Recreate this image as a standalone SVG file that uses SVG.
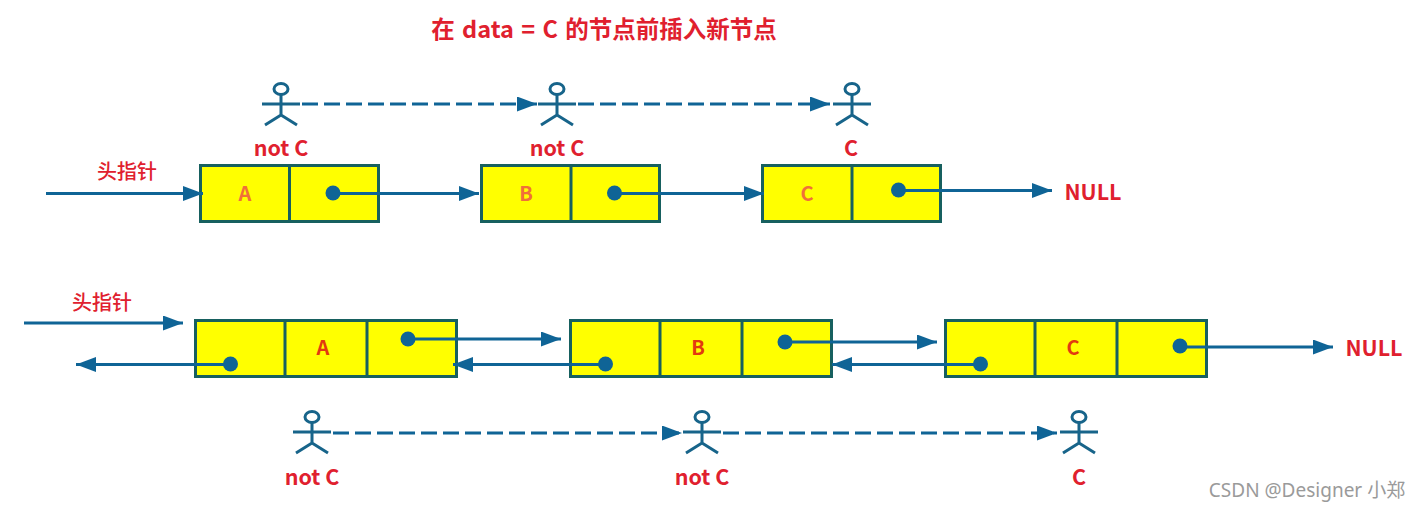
<svg xmlns="http://www.w3.org/2000/svg" width="1419" height="510" viewBox="0 0 1419 510">
<style>
.cell{fill:#ffff00;stroke:#17605f;stroke-width:3}
.div{stroke:#17605f;stroke-width:3;fill:none}
.dot{fill:#0f6496}
.ln{stroke:#0f6496;stroke-width:3;fill:none}
.dash{stroke:#0f6496;stroke-width:3;fill:none;stroke-dasharray:16 6}
.fig{stroke:#17648a;stroke-width:3;fill:none}
.head{stroke:#17648a;stroke-width:3;fill:#fff}
text{font-family:"Noto Sans CJK SC","Noto Sans",sans-serif;font-weight:700;fill:#e0202e;text-anchor:middle}
.lbl{font-size:21.5px}
.ptr{font-size:20px;font-weight:500}
.nul{font-size:21.5px}
.in{font-size:20px;fill:#f0703a}
.in2{font-size:20px;fill:#e23a10}
.wm{font-family:"Noto Sans","Noto Sans CJK SC",sans-serif;font-weight:400;font-size:19px;fill:#9a9a9a}
</style>
<defs>
<marker id="ah" markerUnits="userSpaceOnUse" markerWidth="22" markerHeight="16" refX="20" refY="7.500" orient="auto"><path d="M0 0L20 7.500L0 15Z" fill="#0f6496"/></marker>
<g id="person"><line class="fig" x1="-19" y1="15" x2="19" y2="15"/><path class="fig" d="M0 5V26M-16 36L0 26L16 36"/><ellipse class="head" cx="0" cy="0" rx="7" ry="5.500"/></g>
</defs>
<rect width="1419" height="510" fill="#fff"/>
<text id="title" x="604" y="38" font-size="23.500" style="word-spacing:2px">在 data = C 的节点前插入新节点</text>

<g id="top-A"><rect class="cell" x="200.500" y="165.500" width="178" height="56"/><line class="div" x1="289.500" y1="165" x2="289.500" y2="221"/><text class="in" x="245" y="201">A</text><circle class="dot" cx="333" cy="193" r="7.500"/></g>
<g id="top-B"><rect class="cell" x="481.500" y="165.500" width="178" height="56"/><line class="div" x1="571" y1="165" x2="571" y2="221"/><text class="in" x="526" y="201">B</text><circle class="dot" cx="614.500" cy="193" r="7.500"/></g>
<g id="top-C"><rect class="cell" x="762.500" y="165.500" width="178" height="56"/><line class="div" x1="852" y1="165" x2="852" y2="221"/><text class="in" x="807" y="201">C</text><circle class="dot" cx="898.500" cy="190" r="7.500"/></g>

<g id="bot-A"><rect class="cell" x="195.500" y="320.500" width="261" height="56"/><path class="div" d="M285 320V376M367 320V376"/><text class="in2" x="323" y="355">A</text><circle class="dot" cx="230.500" cy="364" r="7.500"/><circle class="dot" cx="408" cy="339" r="7.500"/></g>
<g id="bot-B"><rect class="cell" x="570.500" y="320.500" width="261" height="56"/><path class="div" d="M660 320V376M742 320V376"/><text class="in2" x="698" y="355">B</text><circle class="dot" cx="605.500" cy="364" r="7.500"/><circle class="dot" cx="785" cy="342" r="7.500"/></g>
<g id="bot-C"><rect class="cell" x="945.500" y="320.500" width="261" height="56"/><path class="div" d="M1035 320V376M1117 320V376"/><text class="in2" x="1073" y="355">C</text><circle class="dot" cx="980.500" cy="364" r="7.500"/><circle class="dot" cx="1180" cy="346" r="7.500"/></g>

<g id="connectors">
<line class="ln" x1="46" y1="193.500" x2="203" y2="193.500" marker-end="url(#ah)"/>
<line class="ln" x1="333" y1="193.500" x2="479" y2="193.500" marker-end="url(#ah)"/>
<line class="ln" x1="614" y1="193.500" x2="764" y2="193.500" marker-end="url(#ah)"/>
<line class="ln" x1="898" y1="190.500" x2="1052" y2="190.500" marker-end="url(#ah)"/>
<line class="ln" x1="24" y1="323" x2="183" y2="323" marker-end="url(#ah)"/>
<line class="ln" x1="230" y1="364.500" x2="76" y2="364.500" marker-end="url(#ah)"/>
<line class="ln" x1="408" y1="339" x2="561" y2="339" marker-end="url(#ah)"/>
<line class="ln" x1="605" y1="364.500" x2="453" y2="364.500" marker-end="url(#ah)"/>
<line class="ln" x1="785" y1="342" x2="937" y2="342" marker-end="url(#ah)"/>
<line class="ln" x1="980" y1="364.500" x2="832" y2="364.500" marker-end="url(#ah)"/>
<line class="ln" x1="1180" y1="347" x2="1333" y2="347" marker-end="url(#ah)"/>
<line class="dash" x1="302" y1="104" x2="537" y2="104" marker-end="url(#ah)"/>
<line class="dash" x1="578" y1="104" x2="830" y2="104" marker-end="url(#ah)"/>
<line class="dash" x1="333" y1="433" x2="682" y2="433" marker-end="url(#ah)"/>
<line class="dash" x1="723" y1="433" x2="1057" y2="433" marker-end="url(#ah)"/>
</g>

<g id="actor-top-1"><use href="#person" x="281" y="89"/><text class="lbl" x="281" y="156">not C</text></g>
<g id="actor-top-2"><use href="#person" x="557" y="89"/><text class="lbl" x="557" y="156">not C</text></g>
<g id="actor-top-3"><use href="#person" x="852" y="89"/><text class="lbl" x="851" y="156">C</text></g>
<g id="actor-bot-1"><use href="#person" x="312" y="417"/><text class="lbl" x="312" y="485">not C</text></g>
<g id="actor-bot-2"><use href="#person" x="702" y="417"/><text class="lbl" x="702" y="485">not C</text></g>
<g id="actor-bot-3"><use href="#person" x="1079" y="417"/><text class="lbl" x="1079" y="485">C</text></g>

<text class="ptr" x="127" y="179">头指针</text>
<text class="ptr" x="102" y="310">头指针</text>
<text class="nul" x="1093" y="200">NULL</text>
<text class="nul" x="1374" y="356">NULL</text>
<text class="wm" x="1307" y="497">CSDN @Designer 小郑</text>
</svg>
